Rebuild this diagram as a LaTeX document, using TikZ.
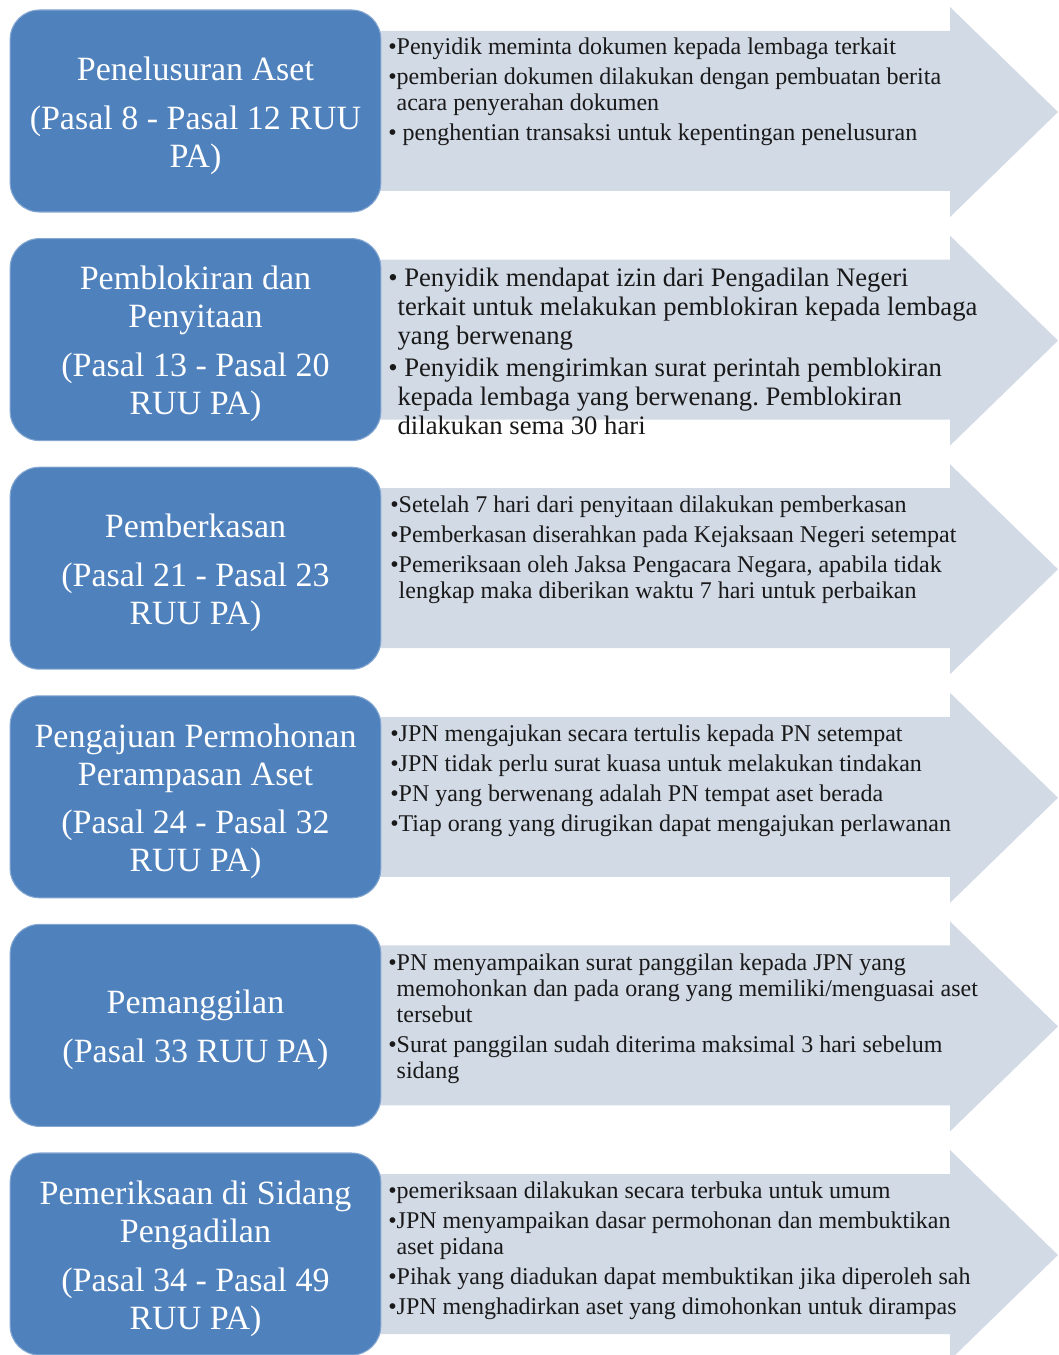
\documentclass[tikz,border=0pt]{standalone}
\usepackage{fontspec}
\setmainfont{Liberation Serif}
\usepackage{tikz}
\usetikzlibrary{arrows.meta}
\frenchspacing

\newcommand{\lanjut}{\phantom{•}}

\begin{document}
\begin{tikzpicture}[x=0.75pt, y=-0.75pt, >=Latex,
    kotak/.style={draw=Kbiru!70!white, line width=0.8pt, fill=Kbiru, rounded corners=22pt,
        minimum width=278pt, minimum height=151.5pt, inner sep=0pt},
    judul/.style={inner sep=0pt, text=white, align=center, yshift=-3.4pt,
        font=\fontsize{25.5}{28.5}\selectfont},
    isi/.style={anchor=north west, inner sep=0pt, align=left, text=black!90,
        font=\fontsize{18}{19.5}\selectfont},
    isibesar/.style={isi, font=\fontsize{20}{21.75}\selectfont},
    panah/.style={fill=Pbiru}]

    % Definisi warna
    \definecolor{Kbiru}{RGB}{79,129,189} % Biru untuk kotak tahapan
    \definecolor{Pbiru}{RGB}{210,218,230} % Abu-biru untuk panah

    \useasboundingbox (0,0) rectangle (1058,1355);
    \clip (0,0) rectangle (1058,1355);

    % --- 1. PANAH (latar isi tiap tahap) ---
    \foreach \t in {10, 238.6, 467.2, 695.8, 924.4, 1153} {
        \fill[panah] (380,\t+21) -- (950,\t+21) -- (950,\t-3) -- (1058,\t+102)
            -- (950,\t+207) -- (950,\t+181) -- (380,\t+181) -- cycle;
    }

    % --- 2. KOTAK TAHAPAN ---
    \node[kotak] (k1) at (195.5,111) {};
    \node[kotak] (k2) at (195.5,339.6) {};
    \node[kotak] (k3) at (195.5,568.2) {};
    \node[kotak] (k4) at (195.5,796.8) {};
    \node[kotak] (k5) at (195.5,1025.4) {};
    \node[kotak] (k6) at (195.5,1254) {};

    \node[judul] (j1) at (k1) {Penelusuran Aset\\[8pt](Pasal 8 - Pasal 12 RUU\\PA)};
    \node[judul] (j2) at (k2) {Pemblokiran dan\\Penyitaan\\[8pt](Pasal 13 - Pasal 20\\RUU PA)};
    \node[judul] (j3) at (k3) {Pemberkasan\\[8pt](Pasal 21 - Pasal 23\\RUU PA)};
    \node[judul] (j4) at (k4) {Pengajuan Permohonan\\Perampasan Aset\\[8pt](Pasal 24 - Pasal 32\\RUU PA)};
    \node[judul] (j5) at (k5) {Pemanggilan\\[8pt](Pasal 33 RUU PA)};
    \node[judul] (j6) at (k6) {Pemeriksaan di Sidang\\Pengadilan\\[8pt](Pasal 34 - Pasal 49\\RUU PA)};

    % --- 3. ISI TIAP TAHAP ---
    \node[isi] (t1) at (388,37.5) {•Penyidik meminta dokumen kepada lembaga terkait\\[3pt]
        •pemberian dokumen dilakukan dengan pembuatan berita\\
        \lanjut acara penyerahan dokumen\\[3pt]
        • penghentian transaksi untuk kepentingan penelusuran};

    \node[isibesar] (t2) at (388,267.7) {• Penyidik mendapat izin dari Pengadilan Negeri\\
        \lanjut terkait untuk melakukan pemblokiran kepada lembaga\\
        \lanjut yang berwenang\\[2.25pt]
        • Penyidik mengirimkan surat perintah pemblokiran\\
        \lanjut kepada lembaga yang berwenang. Pemblokiran\\
        \lanjut dilakukan sema 30 hari};

    \node[isi] (t3) at (390,495.5) {•Setelah 7 hari dari penyitaan dilakukan pemberkasan\\[3pt]
        •Pemberkasan diserahkan pada Kejaksaan Negeri setempat\\[3pt]
        •Pemeriksaan oleh Jaksa Pengacara Negara, apabila tidak\\
        \lanjut lengkap maka diberikan waktu 7 hari untuk perbaikan};

    \node[isi] (t4) at (390,724.5) {•JPN mengajukan secara tertulis kepada PN setempat\\[3pt]
        •JPN tidak perlu surat kuasa untuk melakukan tindakan\\[3pt]
        •PN yang berwenang adalah PN tempat aset berada\\[3pt]
        •Tiap orang yang dirugikan dapat mengajukan perlawanan};

    \node[isi] (t5) at (388,953.5) {•PN menyampaikan surat panggilan kepada JPN yang\\
        \lanjut memohonkan dan pada orang yang memiliki/menguasai aset\\
        \lanjut tersebut\\[3pt]
        •Surat panggilan sudah diterima maksimal 3 hari sebelum\\
        \lanjut sidang};

    \node[isi] (t6) at (388,1181.5) {•pemeriksaan dilakukan secara terbuka untuk umum\\[3pt]
        •JPN menyampaikan dasar permohonan dan membuktikan\\
        \lanjut aset pidana\\[3pt]
        •Pihak yang diadukan dapat membuktikan jika diperoleh sah\\[3pt]
        •JPN menghadirkan aset yang dimohonkan untuk dirampas};

\end{tikzpicture}
\end{document}
